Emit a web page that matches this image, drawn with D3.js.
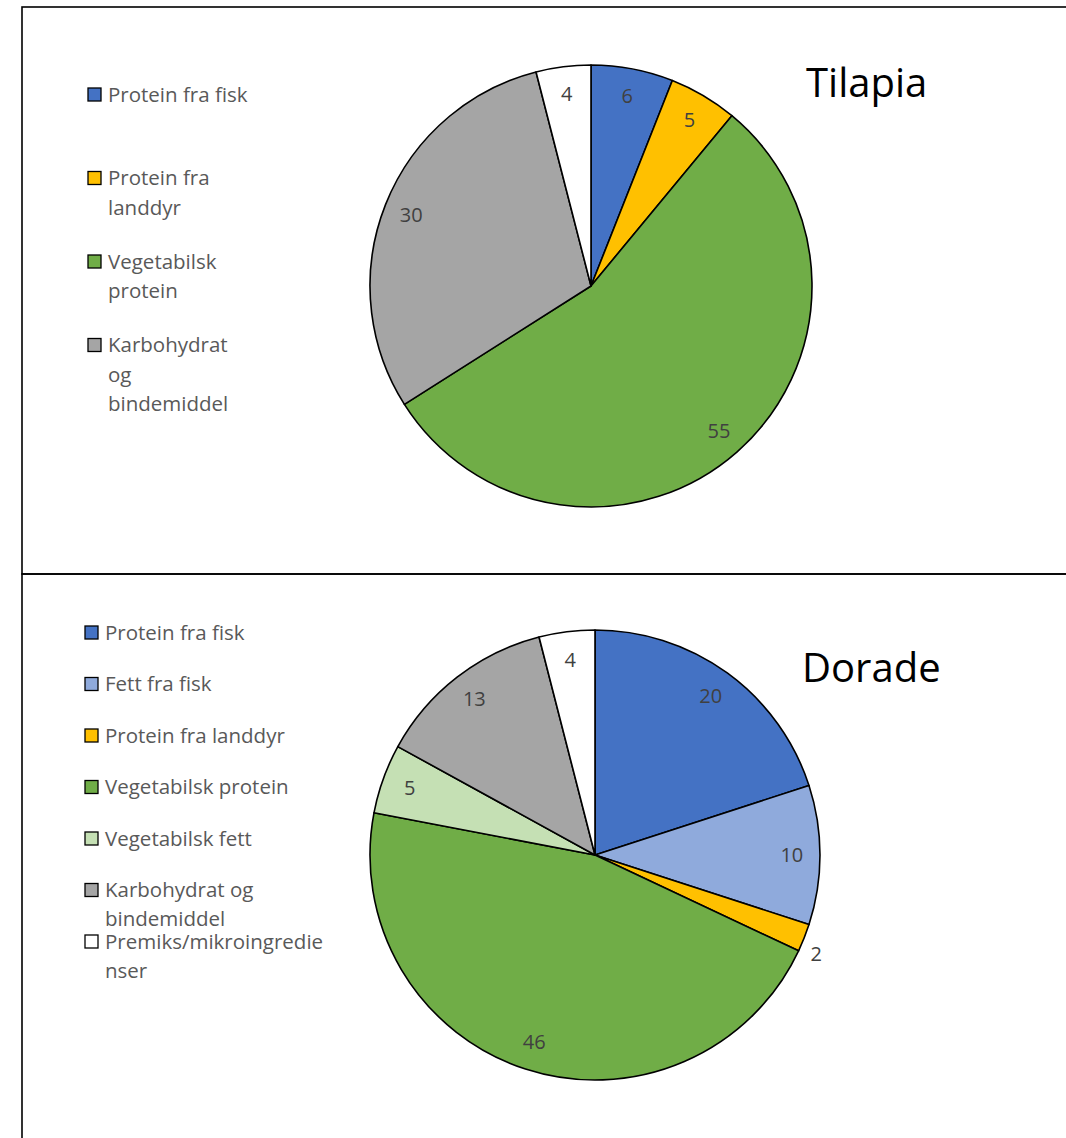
<!DOCTYPE html>
<html>
<head>
<meta charset="utf-8">
<script src="https://cdn.jsdelivr.net/npm/d3@7"></script>
<style>
  body { margin: 0; background: #fff; }
  text { font-family: "Open Sans", "Noto Sans", sans-serif; }
</style>
</head>
<body>
<div id="chart"></div>
<script>
// categories (colour follows the category)
const categories = ["Protein fra fisk", "Fett fra fisk", "Protein fra landdyr",
    "Vegetabilsk protein", "Vegetabilsk fett", "Karbohydrat og bindemiddel",
    "Premiks/mikroingredienser"];
const colors = ["#4472C4", "#8FAADC", "#FFC000", "#70AD47", "#C5E0B4", "#A5A5A5", "#FFFFFF"];

// Tilapia
const tilapiaCategories = ["Protein fra fisk", "Protein fra landdyr", "Vegetabilsk protein",
    "Karbohydrat og bindemiddel", "Premiks/mikroingredienser"];
const tilapiaValues = [6, 5, 55, 30, 4];
const tilapiaLegend = [
    ["Protein fra fisk"],
    ["Protein fra", "landdyr"],
    ["Vegetabilsk", "protein"],
    ["Karbohydrat", "og", "bindemiddel"]
];
const tilapiaLegendCats = ["Protein fra fisk", "Protein fra landdyr", "Vegetabilsk protein",
    "Karbohydrat og bindemiddel"];

// Dorade
const doradeCategories = categories;
const doradeValues = [20, 10, 2, 46, 5, 13, 4];
const doradeLegend = [
    ["Protein fra fisk"],
    ["Fett fra fisk"],
    ["Protein fra landdyr"],
    ["Vegetabilsk protein"],
    ["Vegetabilsk fett"],
    ["Karbohydrat og", "bindemiddel"],
    ["Premiks/mikroingredie", "nser"]
];

var width = 1066, height = 1138;

var color = d3.scaleOrdinal()
    .domain(categories)
    .range(colors);

var svg = d3.select("#chart").append("svg")
    .attr("width", width)
    .attr("height", height);

// panel frames
svg.append("rect")
    .attr("x", 22).attr("y", 7)
    .attr("width", 1100).attr("height", 567)
    .attr("fill", "none").attr("stroke", "#000").attr("stroke-width", 1.6);
svg.append("rect")
    .attr("x", 22).attr("y", 574)
    .attr("width", 1100).attr("height", 600)
    .attr("fill", "none").attr("stroke", "#000").attr("stroke-width", 1.6);

function drawPie(opts) {
    var data = opts.cats.map((c, i) => ({ cat: c, value: opts.values[i] }));
    var pie = d3.pie().sort(null).value(d => d.value);
    var arc = d3.arc().innerRadius(0).outerRadius(opts.r);
    var labelArc = d3.arc().innerRadius(opts.r * 0.875).outerRadius(opts.r * 0.875);
    var edgeArc = d3.arc().innerRadius(opts.r * 1.03).outerRadius(opts.r * 1.03);

    var g = svg.append("g")
        .attr("transform", `translate(${opts.cx},${opts.cy})`);

    var arcs = pie(data);
    g.selectAll("path")
        .data(arcs)
        .enter().append("path")
        .attr("d", arc)
        .attr("fill", d => color(d.data.cat))
        .attr("stroke", "#000")
        .attr("stroke-width", 1.6)
        .attr("stroke-linejoin", "round");

    // small slices get their label outside, corner touching the rim
    var inside = arcs.filter(d => d.data.value >= 3);
    var outside = arcs.filter(d => d.data.value < 3);

    g.selectAll("text.lbl")
        .data(inside)
        .enter().append("text")
        .attr("class", "lbl")
        .attr("transform", d => `translate(${labelArc.centroid(d)})`)
        .attr("text-anchor", "middle")
        .attr("dy", "0.35em")
        .attr("font-size", 20)
        .attr("fill", "#404040")
        .text(d => d.data.value);

    g.selectAll("text.out")
        .data(outside)
        .enter().append("text")
        .attr("class", "out")
        .attr("transform", d => `translate(${edgeArc.centroid(d)})`)
        .attr("text-anchor", d => edgeArc.centroid(d)[0] > 0 ? "start" : "end")
        .attr("dy", d => edgeArc.centroid(d)[1] > 0 ? "1.05em" : "-0.2em")
        .attr("font-size", 20)
        .attr("fill", "#404040")
        .text(d => d.data.value);

    svg.append("text")
        .attr("x", opts.titleX).attr("y", opts.titleY)
        .attr("font-size", 40)
        .attr("fill", "#000")
        .text(opts.title);

    // legend
    var lg = svg.append("g");
    opts.legend.forEach((lines, i) => {
        var y = opts.legY + i * opts.legStep;
        lg.append("rect")
            .attr("x", opts.legX).attr("y", y - 6.5)
            .attr("width", 13).attr("height", 13)
            .attr("fill", color(opts.legendCats[i]))
            .attr("stroke", "#000").attr("stroke-width", 1.3);
        var t = lg.append("text")
            .attr("x", opts.legX + 20)
            .attr("y", y + 7)
            .attr("font-size", 20.5)
            .attr("fill", "#595959");
        lines.forEach((ln, j) => {
            t.append("tspan")
                .attr("x", opts.legX + 20)
                .attr("y", y + 7 + j * opts.lineH)
                .text(ln);
        });
    });
}

drawPie({
    cats: tilapiaCategories, values: tilapiaValues,
    cx: 591, cy: 286, r: 221,
    title: "Tilapia", titleX: 806, titleY: 97,
    legend: tilapiaLegend, legendCats: tilapiaLegendCats,
    legX: 88, legY: 94.5, legStep: 83.5, lineH: 29.5
});

drawPie({
    cats: doradeCategories, values: doradeValues,
    cx: 595, cy: 855, r: 225,
    title: "Dorade", titleX: 802, titleY: 682,
    legend: doradeLegend, legendCats: doradeCategories,
    legX: 85, legY: 632.5, legStep: 51.5, lineH: 29
});
</script>
</body>
</html>
